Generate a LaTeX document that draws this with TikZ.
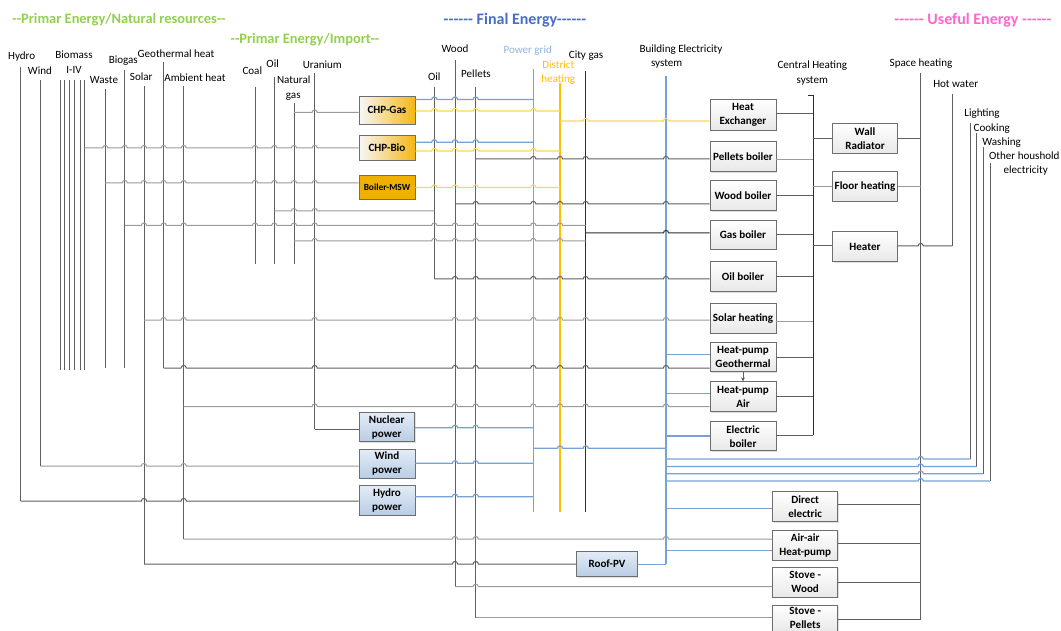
\documentclass[tikz,border=0pt]{standalone}
\usepackage{fontspec}
\setmainfont{Carlito}
\newfontfamily\ttlfont{Carlito}
\usetikzlibrary{shadows,arrows.meta}
\definecolor{lgray}{RGB}{155,155,155}
\definecolor{dgray}{RGB}{95,95,95}
\definecolor{blk}{RGB}{45,45,45}
\definecolor{eblue}{RGB}{120,162,214}
\definecolor{hyel}{RGB}{255,214,90}
\definecolor{dhyel}{RGB}{255,192,0}
\definecolor{tgreen}{RGB}{146,208,80}
\definecolor{tblue}{RGB}{72,110,200}
\definecolor{pgblue}{RGB}{141,180,226}
\definecolor{tpink}{RGB}{255,102,204}
\definecolor{chporange}{RGB}{244,184,20}
\definecolor{mswor}{RGB}{240,176,0}
\definecolor{pvtop}{RGB}{228,237,248}
\definecolor{pvbot}{RGB}{184,204,228}
\definecolor{boxb}{RGB}{110,110,110}
\newcommand\hln[5]{\draw[#1] #3 \foreach \hx in {#5}{ -- ({\hx-2.6},#2) arc[start angle=180,end angle=360,radius=2.6]} -- #4;}
\newcommand\bx[7]{\node[#1, minimum width={(#4-#2)*0.75pt}, minimum height={(#5-#3)*0.75pt}] (#6) at ({(#2+#4)/2},{(#3+#5)/2}) {#7};}
\tikzset{
 lg/.style={draw=lgray, line width=0.75pt},
 dg/.style={draw=dgray, line width=0.75pt},
 bk/.style={draw=blk, line width=0.75pt},
 bl/.style={draw=eblue, line width=0.9pt},
 yl/.style={draw=hyel, line width=0.8pt},
 boxbase/.style={draw=boxb, line width=0.5pt, font=\bfseries\fontsize{8.3}{10.5}\selectfont, align=center, inner sep=0pt, drop shadow={opacity=0.25, shadow xshift=0.8pt, shadow yshift=-0.8pt}},
 box/.style={boxbase, top color=white, bottom color=gray!18},
 chp/.style={boxbase, left color=gray!6, right color=chporange},
 msw/.style={boxbase, fill=mswor, font=\bfseries\fontsize{7}{9}\selectfont},
 pv/.style={boxbase, top color=pvtop, bottom color=pvbot},
 lab/.style={font=\fontsize{8.3}{10}\selectfont, inner sep=0pt},
 ttl/.style={font=\ttlfont\bfseries\fontsize{10.8}{13}\selectfont, inner sep=0pt},
 ttlb/.style={font=\ttlfont\bfseries\fontsize{12}{14}\selectfont, inner sep=0pt}
}
\begin{document}
\begin{tikzpicture}[x=0.75pt,y=-0.75pt]
\clip (0,0) rectangle (1061,631);
\fill[white] (0,0) rectangle (1061,631);
% titles
\node[ttl, text=tgreen] (t1) at (119,20) {--Primar Energy/Natural resources--};
\node[ttl, text=tgreen] (t2) at (305,39.3) {--Primar Energy/Import--};
\node[ttlb, text=tblue] (t3) at (515,20.7) {------ Final Energy------};
\node[ttlb, text=tpink] (t4) at (973,20) {------ Useful Energy ------};
% source labels
\node[lab] (lhydro) at (21.7,56.7) {Hydro};
\node[lab] (lwind) at (40,71) {Wind};
\node[lab] (lbio) at (74,55) {Biomass};
\node[lab] (lbio2) at (74,70) {I-IV};
\node[lab] (lwaste) at (104,80) {Waste};
\node[lab] (lbiogas) at (123.3,61) {Biogas};
\node[lab] (lgeo) at (176,53.3) {Geothermal heat};
\node[lab] (lsolar) at (141.3,76.7) {Solar};
\node[lab] (lamb) at (195,77.7) {Ambient heat};
\node[lab] (lcoal) at (252.3,70.7) {Coal};
\node[lab] (loil) at (272.7,63.3) {Oil};
\node[lab] (lng) at (293.7,80) {Natural};
\node[lab] (lng2) at (293.3,96.7) {gas};
\node[lab] (lur) at (322.3,64.3) {Uranium};
\node[lab] (lwood) at (455,49) {Wood};
\node[lab] (loilf) at (434.3,76.7) {Oil};
\node[lab] (lpel) at (476,73.3) {Pellets};
\node[lab, text=pgblue] (lpg) at (527.7,50.7) {Power grid};
\node[lab, text=dhyel] (ldh) at (558.3,65) {District};
\node[lab, text=dhyel] (ldh2) at (558.3,80) {heating};
\node[lab] (lcg) at (586,55.7) {City gas};
\node[lab] (lbe) at (681,49.3) {Building Electricity};
\node[lab] (lbe2) at (666.7,64.3) {system};
\node[lab] (lch) at (812.3,65.7) {Central Heating};
\node[lab] (lch2) at (812.3,81) {system};
\node[lab] (lsh) at (921,63.3) {Space heating};
\node[lab] (lhw) at (955.7,84.3) {Hot water};
\node[lab] (llig) at (982,113.3) {Lighting};
\node[lab] (lcook) at (991.7,128.3) {Cooking};
\node[lab] (lwash) at (1001.7,142.7) {Washing};
\node[lab] (loth) at (1024.3,155.7) {Other houshold};
\node[lab] (loth2) at (1025.7,170.7) {electricity};
% vertical buses
\draw[dg] (20.7,67) -- (20.7,501);
\draw[dg] (40.3,80) -- (40.3,466);
\foreach \bxx in {60.3,64.3,69.3,74.3,80,84.3} \draw[dg] (\bxx,80) -- (\bxx,370);
\draw[dg] (105.3,89) -- (105.3,368);
\draw[dg] (124.7,70) -- (124.7,368);
\draw[dg] (144,86) -- (144,564);
\draw[dg] (163.7,62) -- (163.7,368);
\draw[dg] (183.7,86) -- (183.7,539);
\draw[dg] (255,87) -- (255,264);
\draw[dg] (274.3,77) -- (274.3,264);
\draw[dg] (294,103) -- (294,264);
\draw[dg] (314.7,73) -- (314.7,429);
\draw[dg] (434.3,87) -- (434.3,279);
\draw[dg] (455,60) -- (455,586.7);
\draw[dg] (475.7,87) -- (475.7,617.7);
\draw[bl] (533.3,69) -- (533.3,511.7);
\draw[draw=dhyel, line width=1.6pt] (560,83) -- (560,511.7);
\draw[bk] (585.7,70.7) -- (585.7,511.7);
\draw[bl] (666,76) -- (666,564.3);
\draw[bk] (807.7,96) -- (813.3,96) -- (813.3,435);
\draw[dg] (920.7,73.3) -- (920.7,619);
\draw[dg] (952.3,94) -- (952.3,246);
\draw[dg] (970.7,123) -- (970.7,459);
\draw[dg] (976.7,133) -- (976.7,466.5);
\draw[dg] (983,147) -- (983,473.7);
\draw[dg] (990,163) -- (990,481);
% boxes
\bx{chp}{359}{96.7}{415}{124}{chpgas}{CHP-Gas}
\bx{chp}{359}{135.7}{415}{160}{chpbio}{CHP-Bio}
\bx{msw}{359}{175.7}{415}{199}{msw}{Boiler-MSW}
\bx{pv}{359}{412.3}{414.5}{441.7}{nuc}{Nuclear\\power}
\bx{pv}{359}{449}{415}{478.3}{windp}{Wind\\power}
\bx{pv}{359}{485}{415}{515}{hydrop}{Hydro\\power}
\bx{pv}{576.7}{551}{637.3}{576.7}{roofpv}{Roof-PV}
\bx{box}{710}{99.3}{776}{130}{he}{Heat\\Exchanger}
\bx{box}{710}{141.7}{776}{171.7}{pb}{Pellets boiler}
\bx{box}{710}{180}{776}{210.7}{wb}{Wood boiler}
\bx{box}{710}{220}{776}{249.3}{gb}{Gas boiler}
\bx{box}{710}{261.7}{776}{291.7}{ob}{Oil boiler}
\bx{box}{710}{303.3}{776}{333.3}{shb}{Solar heating}
\bx{box}{710}{342.7}{776}{371.7}{hpg}{Heat-pump\\Geothermal}
\bx{box}{710}{381.7}{776}{411.7}{hpa}{Heat-pump\\Air}
\bx{box}{710}{421.7}{776}{450.7}{eb}{Electric\\boiler}
\bx{box}{832.7}{123.3}{897.3}{153.3}{wr}{Wall\\Radiator}
\bx{box}{832.7}{171.7}{897.3}{201}{fh}{Floor heating}
\bx{box}{832.7}{231.7}{897.3}{261.7}{heater}{Heater}
\bx{box}{772.7}{491.7}{837.7}{521.7}{de}{Direct\\electric}
\bx{box}{772.7}{530}{837.7}{560}{aa}{Air-air\\Heat-pump}
\bx{box}{772.7}{567.3}{837.7}{597.3}{sw}{Stove -\\Wood}
\bx{box}{772.7}{605}{837.7}{631.5}{sp}{Stove -\\Pellets}
% primary -> conversion
\hln{lg}{112.5}{(294,112.5)}{(chpgas.west|-0,112.5)}{314.7}
\hln{lg}{148}{(84.3,148)}{(chpbio.west|-0,148)}{105.3,124.7,144,163.7,183.7,255,274.3,294,314.7}
\hln{lg}{183}{(105.3,183)}{(msw.west|-0,183)}{124.7,144,163.7,183.7,255,274.3,294,314.7}
\hln{lg}{211}{(274.3,211)}{(434.3,211)}{294,314.7}
\hln{lg}{225.5}{(124.7,225.5)}{(585.7,225.5)}{144,163.7,183.7,255,274.3,294,314.7,434.3,455,475.7,533.3,560}
\hln{lg}{241}{(294,241)}{(585.7,241)}{314.7,434.3,455,475.7,533.3,560}
\hln{lg}{320}{(144,320)}{(shb.west|-0,320)}{163.7,183.7,314.7,455,475.7,533.3,560,585.7,666}
\hln{dg}{368}{(163.7,368)}{(hpg.west|-0,368)}{183.7,314.7,455,475.7,533.3,560,585.7,666}
\hln{lg}{406.5}{(183.7,406.5)}{(hpa.west|-0,406.5)}{314.7,455,475.7,533.3,560,585.7,666}
\draw[dg] (314.7,429) -- (nuc.west|-0,429);
\hln{lg}{466}{(40.3,466)}{(windp.west|-0,466)}{144,183.7}
\hln{dg}{501}{(20.7,501)}{(hydrop.west|-0,501)}{144,183.7}
\hln{lg}{539}{(183.7,539)}{(aa.west|-0,539)}{455,475.7,666}
\hln{dg}{564}{(144,564)}{(roofpv.west|-0,564)}{455,475.7}
\hln{lg}{586.7}{(455,586.7)}{(sw.west|-0,586.7)}{475.7}
\draw[lg] (475.7,617.7) -- (sp.west|-0,617.7);
% final energy
\hln{bl}{99.5}{(chpgas.east|-0,99.5)}{(533.3,99.5)}{434.3,455,475.7}
\hln{yl}{111}{(chpgas.east|-0,111)}{(560,111)}{434.3,455,475.7,533.3}
\hln{yl}{121}{(560,121)}{(he.west|-0,121)}{585.7,666}
\hln{bl}{142.3}{(chpbio.east|-0,142.3)}{(533.3,142.3)}{434.3,455,475.7}
\hln{yl}{151}{(chpbio.east|-0,151)}{(560,151)}{434.3,455,475.7,533.3}
\hln{dg}{159}{(475.7,159)}{(pb.west|-0,159)}{533.3,560,585.7,666}
\hln{yl}{187.5}{(msw.east|-0,187.5)}{(560,187.5)}{434.3,455,475.7,533.3}
\hln{dg}{204}{(455,204)}{(wb.west|-0,204)}{475.7,533.3,560,585.7,666}
\hln{bk}{233}{(585.7,233)}{(gb.west|-0,233)}{666}
\hln{dg}{279}{(434.3,279)}{(ob.west|-0,279)}{455,475.7,533.3,560,585.7,666}
\draw[bl] (666,354.7) -- (hpg.west|-0,354.7);
\draw[bl] (666,393.3) -- (hpa.west|-0,393.3);
\hln{bl}{427.7}{(nuc.east|-0,427.7)}{(533.3,427.7)}{455,475.7}
\draw[bl] (666,436) -- (eb.west|-0,436);
\hln{bl}{448.3}{(533.3,448.3)}{(666,448.3)}{560,585.7}
\hln{bl}{463.3}{(windp.east|-0,463.3)}{(533.3,463.3)}{455,475.7}
\hln{bl}{459}{(666,459)}{(970.7,459)}{920.7}
\hln{bl}{466.5}{(666,466.5)}{(976.7,466.5)}{920.7}
\hln{bl}{473.7}{(666,473.7)}{(983,473.7)}{920.7}
\hln{bl}{481}{(666,481)}{(990,481)}{920.7}
\hln{bl}{496.7}{(hydrop.east|-0,496.7)}{(533.3,496.7)}{455,475.7}
\draw[bl] (666,508.3) -- (de.west|-0,508.3);
\draw[bl] (666,550.7) -- (aa.west|-0,550.7);
\draw[bl] (roofpv.east|-0,564.3) -- (666,564.3);
% useful energy
\draw[dg] (he.east|-0,114) -- (813.3,114);
\draw[lg] (pb.east|-0,159.3) -- (813.3,159.3);
\draw[dg] (wb.east|-0,195.7) -- (813.3,195.7);
\draw[dg] (gb.east|-0,234.3) -- (813.3,234.3);
\draw[dg] (ob.east|-0,276.7) -- (813.3,276.7);
\draw[lg] (shb.east|-0,321.7) -- (813.3,321.7);
\draw[dg] (hpg.east|-0,357.7) -- (813.3,357.7);
\draw[dg] (hpa.east|-0,396) -- (813.3,396);
\draw[dg] (eb.east|-0,435) -- (813.3,435);
\draw[-{Stealth[length=3pt,width=3pt]}, dgray, line width=0.6pt] (hpg.south) -- (hpa.north);
\draw[dg] (813.3,138.3) -- (wr.west|-0,138.3);
\draw[dg] (wr.east|-0,138.3) -- (920.7,138.3);
\draw[lg] (813.3,186.7) -- (fh.west|-0,186.7);
\draw[lg] (fh.east|-0,186.7) -- (920.7,186.7);
\draw[dg] (813.3,246) -- (heater.west|-0,246);
\hln{dg}{246}{(heater.east|-0,246)}{(952.3,246)}{920.7}
\draw[dg] (de.east|-0,504.3) -- (920.7,504.3);
\draw[dg] (aa.east|-0,543.3) -- (920.7,543.3);
\draw[dg] (sw.east|-0,582.7) -- (920.7,582.7);
\draw[dg] (sp.east|-0,619) -- (920.7,619);
\end{tikzpicture}
\end{document}
